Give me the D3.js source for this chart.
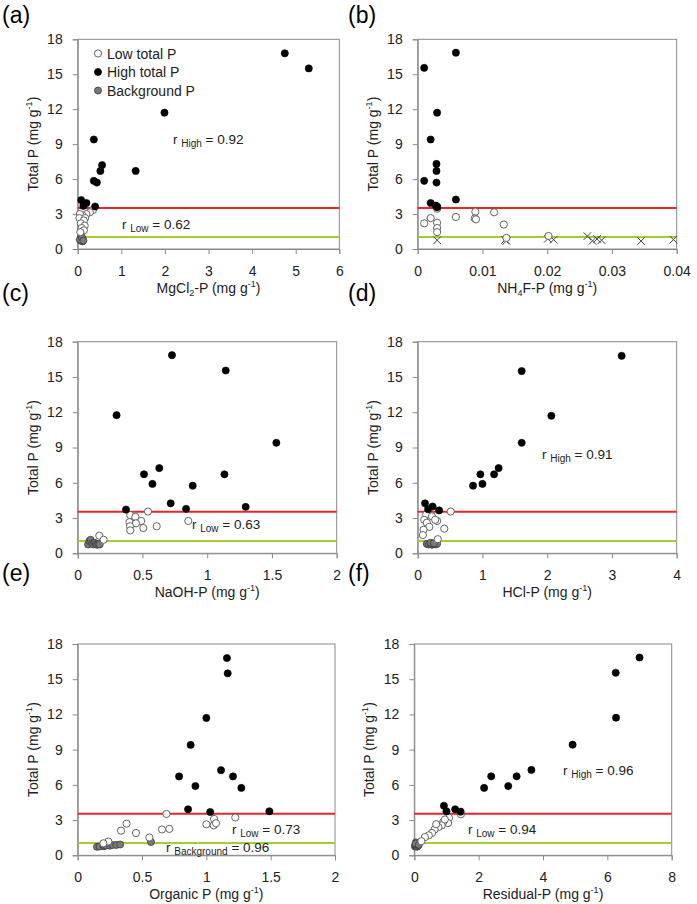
<!DOCTYPE html>
<html><head><meta charset="utf-8">
<script src="https://cdn.jsdelivr.net/npm/d3@7"></script>
<style>
body{margin:0;background:#fff}
svg{display:block}
text{font-family:"Liberation Sans",Arial,sans-serif}
</style>
</head><body>
<svg id="chart" width="697" height="904"></svg>
<script>
// ---------------- DATA ----------------
const yTicks = [0, 3, 6, 9, 12, 15, 18];
const highThreshold = 3.53;
const lowThreshold = 1.04;
const legendLabels = ["Low total P", "High total P", "Background P"];

// (a) MgCl2-P
const aTicks = [0, 1, 2, 3, 4, 5, 6];
const aHigh = [[4.75,16.8],[5.3,15.5],[1.99,11.7],[0.37,9.4],[0.56,7.2],[0.52,6.7],[1.33,6.7],[0.37,5.85],[0.44,5.7],[0.08,4.2],[0.2,3.95],[0.13,3.7],[0.4,3.65]];
const aLow = [[0.35,3.35],[0.28,3.15],[0.2,3.0],[0.12,2.85],[0.05,3.0],[0.04,2.65],[0.17,2.65],[0.14,2.45],[0.07,2.2],[0.16,2.0],[0.09,1.8],[0.14,1.6],[0.06,1.45]];
const aBg = [[0.06,0.75],[0.07,0.9],[0.08,1.1],[0.09,0.7],[0.1,0.85],[0.11,0.65],[0.12,0.8],[0.05,0.8],[0.1,1.0],[0.13,0.72]];

// (b) NH4F-P
const bTicks = [0, 0.01, 0.02, 0.03, 0.04];
const bHigh = [[0.001,15.55],[0.0059,16.85],[0.003,11.7],[0.002,9.4],[0.0029,7.3],[0.0029,6.7],[0.001,5.85],[0.0029,5.7],[0.0059,4.25],[0.002,3.95],[0.0028,3.72],[0.003,3.58],[0.003,3.65]];
const bLow = [[0.001,2.2],[0.002,2.65],[0.003,3.45],[0.003,2.25],[0.003,1.8],[0.003,1.45],[0.0059,2.75],[0.0089,3.2],[0.0088,2.62],[0.009,2.55],[0.0118,3.15],[0.0133,2.1],[0.0137,0.95],[0.0202,1.12]];
const bBg = [[0.003,0.75],[0.0135,0.78],[0.0137,0.7],[0.0201,0.88],[0.021,0.8],[0.0262,1.1],[0.027,0.7],[0.0277,0.86],[0.0284,0.76],[0.0345,0.68],[0.0395,0.8]];

// (c) NaOH-P
const cTicks = [0, 0.5, 1, 1.5, 2];
const cHigh = [[0.728,16.85],[1.143,15.55],[0.30,11.75],[1.534,9.4],[0.63,7.25],[0.512,6.72],[1.133,6.72],[0.577,5.9],[0.888,5.75],[0.718,4.25],[1.297,3.95],[0.373,3.72],[0.837,3.78]];
const cLow = [[0.543,3.55],[0.406,3.25],[0.445,3.1],[0.49,2.75],[0.40,2.65],[0.45,2.55],[0.404,2.3],[0.507,2.15],[0.406,1.95],[0.61,2.3],[0.854,2.75],[0.167,1.5],[0.20,1.15]];
const cBg = [[0.08,0.75],[0.09,1.05],[0.1,1.15],[0.11,0.85],[0.12,0.75],[0.13,0.9],[0.14,0.78],[0.15,0.72],[0.16,0.8],[0.17,0.75]];

// (d) HCl-P
const dTicks = [0, 1, 2, 3, 4];
const dHigh = [[3.15,16.8],[1.606,15.5],[2.064,11.7],[1.606,9.4],[1.25,7.25],[1.18,6.72],[0.968,6.72],[1.0,5.9],[0.855,5.75],[0.113,4.25],[0.23,3.98],[0.16,3.75],[0.33,3.65]];
const dLow = [[0.51,3.55],[0.13,3.3],[0.22,3.15],[0.1,2.85],[0.3,2.75],[0.14,2.6],[0.18,2.25],[0.41,2.1],[0.09,2.0],[0.08,1.55],[0.31,1.2],[0.27,2.85]];
const dBg = [[0.14,0.8],[0.17,0.75],[0.2,0.8],[0.22,0.72],[0.24,0.78],[0.26,0.8],[0.28,0.75],[0.3,0.82],[0.2,0.9],[0.25,0.85]];

// (e) Organic P
const eTicks = [0, 0.5, 1, 1.5, 2];
const eHigh = [[1.16,16.8],[1.166,15.5],[1.0,11.7],[0.878,9.4],[1.114,7.25],[0.788,6.72],[1.207,6.72],[0.915,5.9],[1.272,5.74],[0.858,3.92],[1.03,3.69],[1.49,3.75]];
const eLow = [[0.69,3.52],[0.38,2.7],[0.337,2.1],[0.453,1.9],[0.557,1.52],[0.655,2.2],[0.712,2.25],[1.0,2.64],[1.06,3.1],[1.057,2.55],[1.075,2.73],[1.225,3.22],[0.238,1.18],[0.2,1.02]];
const eBg = [[0.15,0.72],[0.17,0.75],[0.2,0.78],[0.21,0.8],[0.22,0.85],[0.25,0.82],[0.27,0.88],[0.3,0.88],[0.33,0.92],[0.57,1.13]];

// (f) Residual-P
const fTicks = [0, 2, 4, 6, 8];
const fHigh = [[7.0,16.85],[6.26,15.55],[6.27,11.72],[4.92,9.42],[3.64,7.27],[2.39,6.73],[3.18,6.73],[2.92,5.9],[2.17,5.74],[0.92,4.22],[1.27,3.92],[1.0,3.75],[1.44,3.72]];
const fLow = [[1.45,3.5],[1.08,3.2],[1.05,2.75],[0.9,2.85],[0.85,2.55],[0.75,2.4],[0.63,2.2],[0.55,1.9],[0.45,1.7],[0.33,1.55],[0.22,1.2],[0.68,2.65],[0.95,3.05]];
const fBg = [[0.02,0.75],[0.03,0.85],[0.05,1.1],[0.06,0.9],[0.07,0.8],[0.08,0.72],[0.1,0.78],[0.12,0.85],[0.04,1.0],[0.14,0.9]];

// ---------------- LAYOUT ----------------
const panels = [
  {id:"(a)", lx:2, ly:23, box:[77.7,339.3,39.3,249], dom:[0,6], ticks:aTicks, fmt:d3.format("d"),
   high:aHigh, low:aLow, bg:aBg, bgShape:"circle", xl:["MgCl","2","-P (mg g"], legend:true,
   notes:[{x:173,y:144,sub:"High",val:"0.92"},{x:122,y:229,sub:"Low",val:"0.62"}]},
  {id:"(b)", lx:348, ly:23, box:[417.7,676.7,39.3,249], dom:[0,0.04], ticks:bTicks, fmt:d3.format(""),
   high:bHigh, low:bLow, bg:bBg, bgShape:"cross", xl:["NH","4","F-P (mg g"], notes:[]},
  {id:"(c)", lx:2, ly:301, box:[77.7,336.7,341.7,553.3], dom:[0,2], ticks:cTicks, fmt:d3.format(""),
   high:cHigh, low:cLow, bg:cBg, bgShape:"circle", xl:["NaOH-P (mg g"],
   notes:[{x:192,y:529,sub:"Low",val:"0.63"}]},
  {id:"(d)", lx:348, ly:301, box:[417.7,676.7,341.7,553.3], dom:[0,4], ticks:dTicks, fmt:d3.format("d"),
   high:dHigh, low:dLow, bg:dBg, bgShape:"circle", xl:["HCl-P (mg g"],
   notes:[{x:542,y:459,sub:"High",val:"0.91"}]},
  {id:"(e)", lx:2, ly:581, box:[77.7,335,644,855.3], dom:[0,2], ticks:eTicks, fmt:d3.format(""),
   high:eHigh, low:eLow, bg:eBg, bgShape:"circle", xl:["Organic P (mg g"],
   notes:[{x:232,y:834,sub:"Low",val:"0.73"},{x:166,y:852,sub:"Background",val:"0.96"}]},
  {id:"(f)", lx:348, ly:581, box:[414.3,671.7,644,855.3], dom:[0,8], ticks:fTicks, fmt:d3.format("d"),
   high:fHigh, low:fLow, bg:fBg, bgShape:"circle", xl:["Residual-P (mg g"],
   notes:[{x:563,y:775,sub:"High",val:"0.96"},{x:468,y:834,sub:"Low",val:"0.94"}]}
];

const RED = "#e8262a", GREEN = "#a3cf2d", FRAME = "#8a8a8a", TXT = "#222";
const svg = d3.select("#chart");

function styleMarker(sel, kind){
  if(kind==="high") sel.attr("r",3.6).attr("fill","#000").attr("stroke","#000").attr("stroke-width",0.6);
  else if(kind==="low") sel.attr("r",3.6).attr("fill","#fff").attr("stroke","#555").attr("stroke-width",0.9);
  else sel.attr("r",3.5).attr("fill","#7a7a7a").attr("stroke","#3a3a3a").attr("stroke-width",0.8);
}

panels.forEach(p=>{
  const [L,R,T,B] = p.box;
  const x = d3.scaleLinear().domain(p.dom).range([L,R]);
  const y = d3.scaleLinear().domain([0,18]).range([B,T]);
  const g = svg.append("g");

  // panel letter
  svg.append("text").attr("x",p.lx).attr("y",p.ly).attr("font-size",23).attr("fill","#000").text(p.id);

  // frame
  g.append("rect").attr("x",L).attr("y",T).attr("width",R-L).attr("height",B-T)
    .attr("fill","none").attr("stroke",FRAME).attr("stroke-width",1);

  // axes
  const ya = g.append("g").attr("transform",`translate(${L},0)`)
    .call(d3.axisLeft(y).tickValues(yTicks).tickSize(5).tickPadding(10).tickFormat(d3.format("d")));
  const xa = g.append("g").attr("transform",`translate(0,${B})`)
    .call(d3.axisBottom(x).tickValues(p.ticks).tickSize(5).tickPadding(12).tickFormat(p.fmt));
  [ya,xa].forEach(a=>{
    a.select(".domain").attr("stroke",FRAME);
    a.selectAll(".tick line").attr("stroke",FRAME);
    a.selectAll(".tick text").attr("font-size",14).attr("fill",TXT)
      .attr("font-family",'"Liberation Sans",Arial,sans-serif');
  });

  // threshold lines
  g.append("line").attr("x1",L).attr("x2",R).attr("y1",y(highThreshold)).attr("y2",y(highThreshold))
    .attr("stroke",RED).attr("stroke-width",2);
  g.append("line").attr("x1",L).attr("x2",R).attr("y1",y(lowThreshold)).attr("y2",y(lowThreshold))
    .attr("stroke",GREEN).attr("stroke-width",2);

  // background
  if(p.bgShape==="cross"){
    const s=3.8;
    g.selectAll(".bgx").data(p.bg).enter().append("path")
      .attr("d",d=>{const cx=x(d[0]),cy=y(d[1]);return `M${cx-s},${cy-s}L${cx+s},${cy+s}M${cx-s},${cy+s}L${cx+s},${cy-s}`;})
      .attr("stroke","#444").attr("stroke-width",1).attr("fill","none");
  } else {
    g.selectAll(".bg").data(p.bg).enter().append("circle")
      .attr("cx",d=>x(d[0])).attr("cy",d=>y(d[1])).call(styleMarker,"bg");
  }
  g.selectAll(".lo").data(p.low).enter().append("circle")
    .attr("cx",d=>x(d[0])).attr("cy",d=>y(d[1])).call(styleMarker,"low");
  g.selectAll(".hi").data(p.high).enter().append("circle")
    .attr("cx",d=>x(d[0])).attr("cy",d=>y(d[1])).call(styleMarker,"high");

  // y axis title
  const yt = svg.append("text").attr("transform",`translate(${L-40},${(T+B)/2}) rotate(-90)`)
    .attr("text-anchor","middle").attr("font-size",14).attr("fill",TXT);
  yt.append("tspan").text("Total P (mg g");
  yt.append("tspan").attr("font-size",9).attr("dy",-6).text("-1");
  yt.append("tspan").attr("dy",6).text(")");

  // x axis title
  const xt = svg.append("text").attr("x",(L+R)/2).attr("y",B+44)
    .attr("text-anchor","middle").attr("font-size",14).attr("fill",TXT);
  if(p.xl.length===3){
    xt.append("tspan").text(p.xl[0]);
    xt.append("tspan").attr("font-size",9).attr("dy",3).text(p.xl[1]);
    xt.append("tspan").attr("dy",-3).text(p.xl[2]);
  } else {
    xt.append("tspan").text(p.xl[0]);
  }
  xt.append("tspan").attr("font-size",9).attr("dy",-6).text("-1");
  xt.append("tspan").attr("dy",6).text(")");

  // annotations
  p.notes.forEach(n=>{
    const t = svg.append("text").attr("x",n.x).attr("y",n.y).attr("font-size",13.5).attr("fill",TXT);
    t.append("tspan").text("r ");
    t.append("tspan").attr("font-size",10).attr("dy",3).text(n.sub);
    t.append("tspan").attr("dy",-3).text(" = " + n.val);
  });

  // legend
  if(p.legend){
    const kinds=["low","high","bg"];
    legendLabels.forEach((lab,i)=>{
      const cy = 53.5 + i*18.5;
      svg.append("circle").attr("cx",98).attr("cy",cy).call(styleMarker,kinds[i]);
      svg.append("text").attr("x",107).attr("y",cy+5).attr("font-size",14).attr("fill",TXT).text(lab);
    });
  }
});
</script>
</body></html>
